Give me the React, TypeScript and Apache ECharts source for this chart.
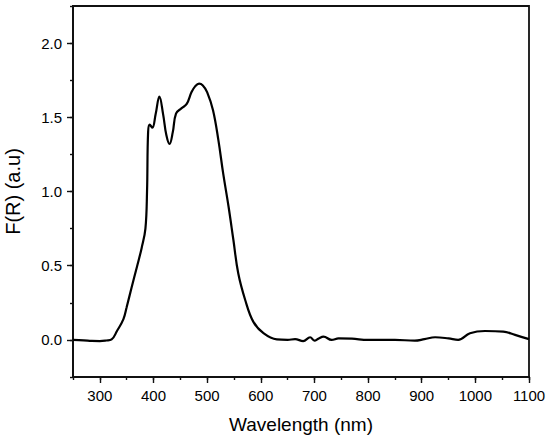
import React, { useEffect, useRef } from "react";
import * as echarts from "echarts";

const wavelengths = [
  250, 270, 285, 300, 312, 322, 332, 344, 350, 359, 369, 378, 385, 388,
  390, 393, 398, 404, 411, 418, 424, 430, 436, 442, 452, 462, 471, 478,
  485, 492, 500, 511, 521, 530, 540, 549, 558, 571, 586, 605, 630, 650,
  664, 679, 692, 700, 708, 717, 732, 745, 770, 800, 850, 887, 905, 925,
  950, 968, 990, 1018, 1052, 1074, 1100,
];
const fr = [
  0.0, -0.003, -0.007, -0.008, -0.004, 0.003, 0.06, 0.14, 0.22, 0.35,
  0.49, 0.62, 0.75, 1.0, 1.4, 1.45, 1.43, 1.52, 1.64, 1.52, 1.38, 1.32,
  1.4, 1.525, 1.56, 1.59, 1.67, 1.71, 1.727, 1.715, 1.67, 1.548, 1.346,
  1.12, 0.897, 0.673, 0.449, 0.269, 0.123, 0.045, 0.003, 0.0, 0.005,
  -0.008, 0.018, -0.005, 0.01, 0.022, 0.0, 0.01, 0.008, 0.0, 0.0, -0.005,
  0.005, 0.018, 0.01, 0.0, 0.045, 0.06, 0.056, 0.034, 0.005,
];
const xMajorTicks = [300, 400, 500, 600, 700, 800, 900, 1000, 1100];
const yMajorTicks = [0, 0.5, 1.0, 1.5, 2.0];

const FONT = "'Liberation Sans', Arial, sans-serif";

export default function App() {
  const ref = useRef<HTMLDivElement>(null);
  useEffect(() => {
    if (!ref.current) return;
    const chart = echarts.init(ref.current, null, { renderer: "svg" });
    const axisLine = { show: true, onZero: false, lineStyle: { color: "#111", width: 1.8 } };
    const tickStyle = { color: "#111", width: 1.4 };
    const data = wavelengths.map((w, i) => [w, fr[i]]);
    chart.setOption({
      animation: false,
      backgroundColor: "#fff",
      grid: {
        left: 73,
        right: 21,
        top: 6,
        bottom: 62,
        containLabel: false,
        outerBoundsMode: "none",
        show: true,
        borderColor: "#111",
        borderWidth: 1.8,
        backgroundColor: "transparent",
      },
      xAxis: [
        {
          type: "value",
          min: 250,
          max: 1100,
          interval: 50,
          position: "bottom",
          axisLine,
          axisTick: { show: true, inside: false, length: 3, lineStyle: tickStyle },
          axisLabel: { show: false },
          splitLine: { show: false },
          name: "Wavelength (nm)",
          nameLocation: "middle",
          nameGap: 38,
          nameTextStyle: { fontFamily: FONT, fontSize: 19, color: "#000" },
        },
        {
          type: "value",
          min: 250,
          max: 1100,
          interval: 50,
          position: "bottom",
          axisLine,
          axisTick: {
            show: true,
            inside: false,
            length: 6,
            customValues: xMajorTicks,
            lineStyle: tickStyle,
          },
          axisLabel: {
            show: true,
            customValues: xMajorTicks,
            margin: 11,
            fontFamily: FONT,
            fontSize: 15,
            color: "#000",
            formatter: (v: number) => String(v),
          },
          splitLine: { show: false },
        },
      ],
      yAxis: [
        {
          type: "value",
          min: -0.25,
          max: 2.25,
          interval: 0.25,
          position: "left",
          axisLine,
          axisTick: { show: true, inside: false, length: 3, lineStyle: tickStyle },
          axisLabel: { show: false },
          splitLine: { show: false },
          name: "F(R) (a.u)",
          nameLocation: "middle",
          nameGap: 50,
          nameRotate: 90,
          nameTextStyle: { fontFamily: FONT, fontSize: 20, color: "#000" },
        },
        {
          type: "value",
          min: -0.25,
          max: 2.25,
          interval: 0.25,
          position: "left",
          axisLine,
          axisTick: {
            show: true,
            inside: false,
            length: 6,
            customValues: yMajorTicks,
            lineStyle: tickStyle,
          },
          axisLabel: {
            show: true,
            customValues: yMajorTicks,
            margin: 11,
            fontFamily: FONT,
            fontSize: 15,
            color: "#000",
            formatter: (v: number) => v.toFixed(1),
          },
          splitLine: { show: false },
        },
      ],
      series: [
        {
          type: "line",
          xAxisIndex: 0,
          yAxisIndex: 0,
          data,
          showSymbol: false,
          smooth: 0.4,
          lineStyle: { color: "#000", width: 2.2 },
        },
      ],
    });
    return () => chart.dispose();
  }, []);
  return (
    <div
      ref={ref}
      style={{ position: "fixed", left: 0, top: 0, width: 550, height: 439 }}
    />
  );
}
